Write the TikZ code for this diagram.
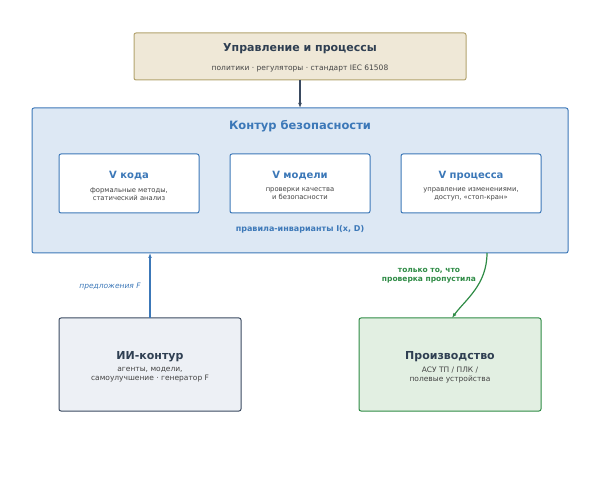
\documentclass[tikz,border=0pt]{standalone}
\usepackage{fontspec}
\setmainfont{DejaVu Sans}
\usetikzlibrary{positioning,arrows.meta}
\definecolor{govfill}{HTML}{EFE8D7}
\definecolor{govline}{HTML}{B3A36E}
\definecolor{safefill}{HTML}{DDE8F4}
\definecolor{safeline}{HTML}{3C78B8}
\definecolor{aifill}{HTML}{EDF0F5}
\definecolor{ailine}{HTML}{3A4A60}
\definecolor{prodfill}{HTML}{E2EFE2}
\definecolor{prodline}{HTML}{2E8B45}
\definecolor{darktext}{HTML}{2F3F52}
\definecolor{greytext}{HTML}{444444}
\begin{document}
\begin{tikzpicture}[x=1pt,y=-1pt,
    box/.style={draw,rounded corners=2pt,line width=1pt,inner sep=0pt},
    title/.style={font=\bfseries\fontsize{11}{13}\selectfont,text=darktext},
    sub/.style={font=\fontsize{7.5}{9}\selectfont,text=greytext,align=center},
    small/.style={font=\fontsize{6.8}{8}\selectfont,text=greytext,align=center},
    vtitle/.style={font=\bfseries\fontsize{10}{12}\selectfont,text=safeline}]
 \useasboundingbox (0,0) rectangle (600,478);

 % management
 \draw[box,fill=govfill,draw=govline] (134,33) rectangle (466,80);
 \coordinate (govb) at (300,80);
 \node[title] (gov) at (300,49) {Управление и процессы};
 \node[sub] (govsub) at (300,68) {политики · регуляторы · стандарт IEC 61508};

 % safety loop
 \draw[box,fill=safefill,draw=safeline] (32,108) rectangle (568,253);
 \coordinate (safet) at (300,108);
 \node[font=\bfseries\fontsize{11.5}{13}\selectfont,text=safeline] (safe) at (300,126) {Контур безопасности};
 \foreach \cx/\nm/\t/\s in {129/vk/V кода/{формальные методы,\\статический анализ},
                            300/vm/V модели/{проверки качества\\и безопасности},
                            471/vp/V процесса/{управление изменениями,\\доступ, «стоп-кран»}}{
   \draw[box,fill=white,draw=safeline] (\cx-70,154) rectangle (\cx+70,213);
   \node[vtitle] (\nm) at (\cx,176) {\t};
   \node[small] (\nm s) at (\cx,194) {\s};
 }
 \node[font=\bfseries\fontsize{8}{10}\selectfont,text=safeline] (inv) at (300,229) {правила-инварианты I(x, D)};

 % AI loop
 \draw[box,fill=aifill,draw=ailine] (59,318) rectangle (241,411);
 \node[title] (ai) at (150,357) {ИИ-контур};
 \node[sub] (aisub) at (150,375) {агенты, модели,\\самоулучшение · генератор F};

 % production
 \draw[box,fill=prodfill,draw=prodline] (359,318) rectangle (541,411);
 \node[title] (prod) at (450,357) {Производство};
 \node[sub] (prodsub) at (450,375) {АСУ ТП / ПЛК /\\полевые устройства};

 \coordinate (ait) at (150,318);
 \coordinate (safeb) at (150,253);
 \coordinate (safeg) at (487,253);
 \coordinate (prodt) at (452,318);

 \draw[-{Latex[length=5pt]},line width=1.2pt,ailine] (govb) -- (safet);
 \draw[-{Latex[length=5pt]},line width=1.2pt,safeline] (ait) -- (safeb);
 \draw[-{Latex[length=5pt]},line width=1.2pt,prodline] (safeg) .. controls (487,285) and (465,300) .. (prodt);
 \node[font=\itshape\fontsize{7.5}{9}\selectfont,text=safeline] (prop) at (110,287) {предложения F};
 \node[font=\bfseries\fontsize{7.5}{9}\selectfont,text=prodline,align=center] (only) at (429,276) {только то, что\\проверка пропустила};
\end{tikzpicture}
\end{document}
